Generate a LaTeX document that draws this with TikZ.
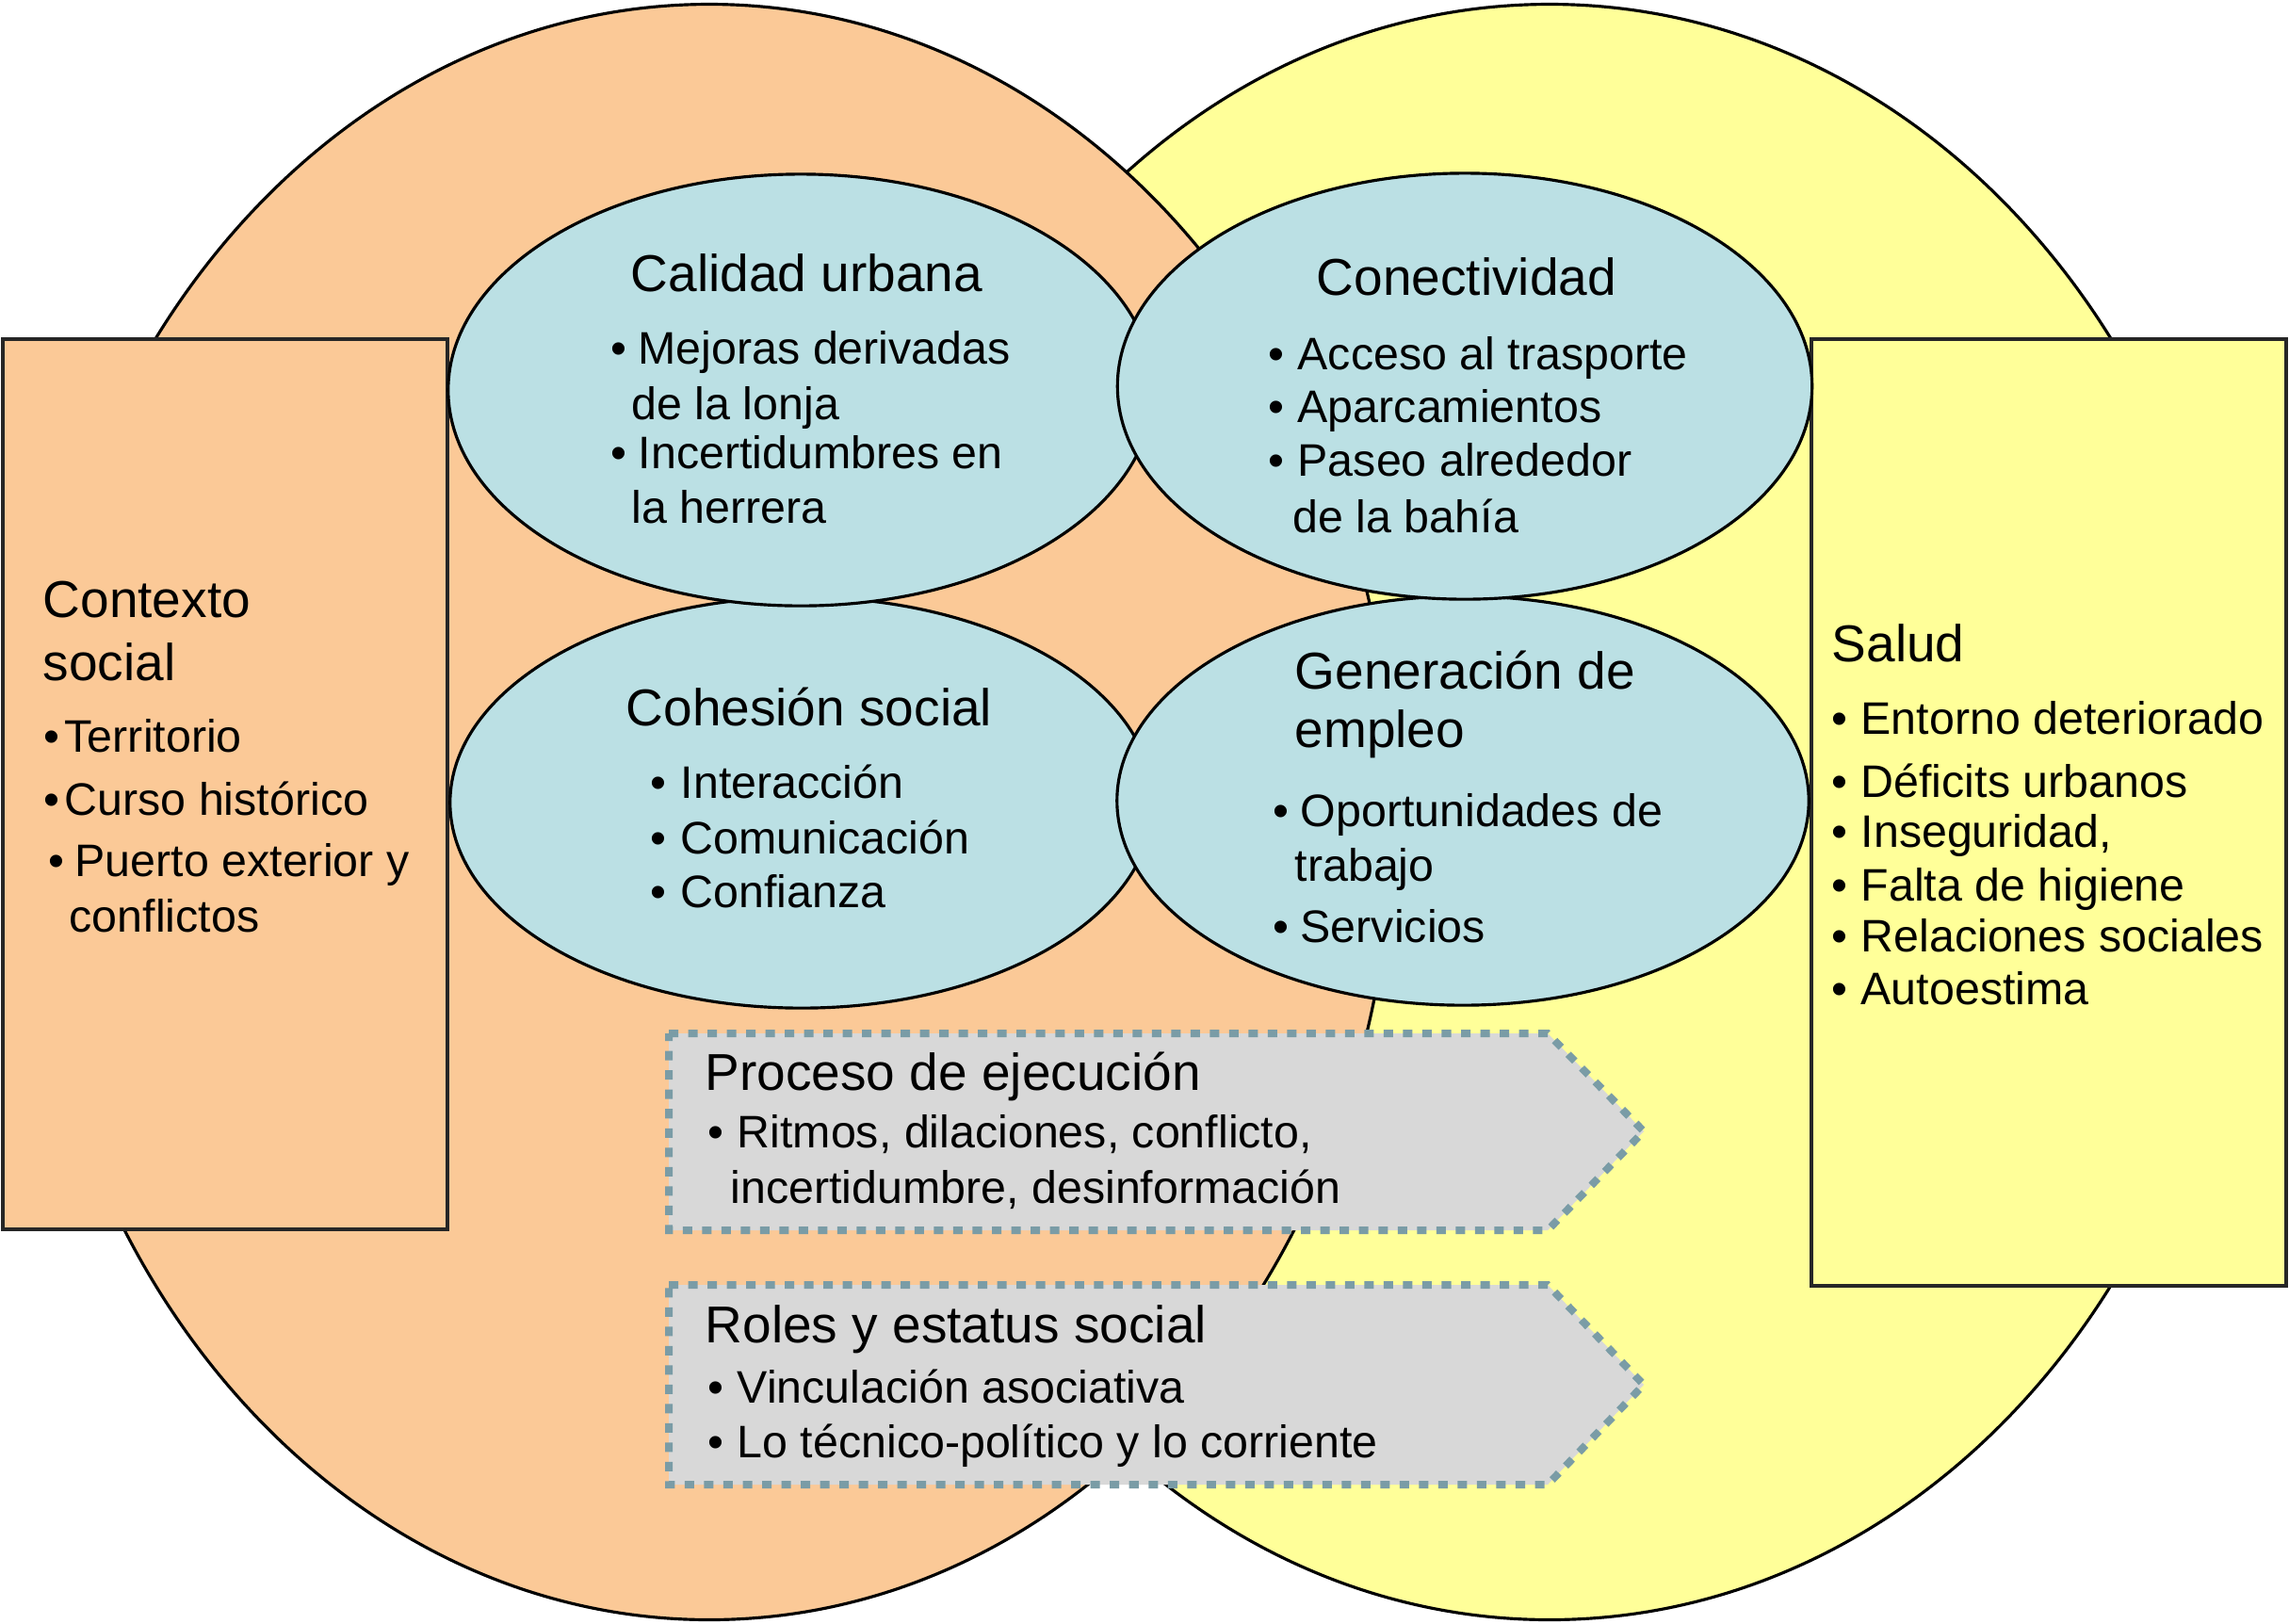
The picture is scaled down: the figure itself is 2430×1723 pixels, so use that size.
\documentclass[tikz,border=0pt]{standalone}
\usepackage{fontspec}
\setmainfont{Liberation Sans}
\usetikzlibrary{shapes.geometric}
\definecolor{peach}{RGB}{251,201,151}
\definecolor{lemon}{RGB}{255,255,153}
\definecolor{sky}{RGB}{187,224,228}
\definecolor{panel}{RGB}{216,216,216}
\definecolor{dotc}{RGB}{122,156,166}
\newcommand{\ttlfont}{\fontsize{15.65}{18}\selectfont}
\newcommand{\bodfont}{\fontsize{13.75}{16}\selectfont}
\newcommand{\bl}[1]{\makebox[#1][l]{•}}
\begin{document}
\begin{tikzpicture}[x=0.01cm,y=-0.01cm,
  bigell/.style={ellipse, draw=black, line width=0.9pt, inner sep=0},
  smallell/.style={ellipse, draw=black, line width=0.9pt, fill=sky, inner sep=0},
  sidebox/.style={rectangle, draw=black!85, line width=1.2pt, inner sep=0},
  arrowpanel/.style={fill=panel, draw=dotc, line width=0.08cm, dash pattern=on 0.1cm off 0.105cm},
  ttl/.style={anchor=base west, inner sep=0, font=\ttlfont},
  txt/.style={anchor=base west, inner sep=0, font=\bodfont}]
\fill[white] (0,0) rectangle (2430,1723);
\path[use as bounding box] (0,0) rectangle (2430,1723);

% big ellipses
\node[bigell, fill=lemon, minimum width=14.70cm, minimum height=17.14cm] (yel) at (1645,862) {};
\node[bigell, fill=peach, minimum width=14.50cm, minimum height=17.14cm] (ora) at (753,862) {};

% side boxes
\node[sidebox, fill=peach, minimum width=4.72cm, minimum height=9.45cm] (ctx) at (239,832.5) {};
\node[sidebox, fill=lemon, minimum width=5.04cm, minimum height=10.05cm] (sal) at (2175,862.5) {};

% small ellipses
\node[smallell, minimum width=7.46cm, minimum height=4.36cm] (coh) at (851,852) {};
\node[smallell, minimum width=7.34cm, minimum height=4.34cm] (gen) at (1553,850) {};
\node[smallell, minimum width=7.48cm, minimum height=4.58cm] (cal) at (850,414) {};
\node[smallell, minimum width=7.37cm, minimum height=4.52cm] (con) at (1555,410) {};

% arrow panels
\draw[arrowpanel] (710,1097) -- (1643,1097) -- (1745,1201) -- (1643,1306) -- (710,1306) -- cycle;
\draw[arrowpanel] (710,1364) -- (1643,1364) -- (1745,1470) -- (1643,1576) -- (710,1576) -- cycle;

% Calidad urbana
\node[ttl] (calT) at (669,309) {Calidad urbana};
\node[txt] (cal1) at (648,386) {\bl{0.29cm}Mejoras derivadas};
\node[txt] (cal2) at (670,445) {de la lonja};
\node[txt] (cal3) at (648,497) {\bl{0.29cm}Incertidumbres en};
\node[txt] (cal4) at (670,555) {la herrera};

% Conectividad
\node[ttl] (conT) at (1397,313) {Conectividad};
\node[txt] (con1) at (1346,392) {\bl{0.31cm}Acceso al trasporte};
\node[txt] (con2) at (1346,448) {\bl{0.31cm}Aparcamientos};
\node[txt] (con3) at (1346,505) {\bl{0.31cm}Paseo alrededor};
\node[txt] (con4) at (1372,565) {de la bahía};

% Cohesion social
\node[ttl] (cohT) at (664,770) {Cohesión social};
\node[txt] (coh1) at (690,847) {\bl{0.32cm}Interacción};
\node[txt] (coh2) at (690,906) {\bl{0.32cm}Comunicación};
\node[txt] (coh3) at (690,963) {\bl{0.32cm}Confianza};

% Generacion de empleo
\node[ttl] (genT1) at (1374,731) {Generación de};
\node[ttl] (genT2) at (1374,793) {empleo};
\node[txt] (gen1) at (1351,877) {\bl{0.29cm}Oportunidades de};
\node[txt] (gen2) at (1374,935) {trabajo};
\node[txt] (gen3) at (1351,1000) {\bl{0.29cm}Servicios};

% Contexto social
\node[ttl] (ctxT1) at (45,655) {Contexto};
\node[ttl] (ctxT2) at (45,722) {social};
\node[txt] (ctx1) at (46,798) {\bl{0.22cm}Territorio};
\node[txt] (ctx2) at (46,865) {\bl{0.22cm}Curso histórico};
\node[txt] (ctx3) at (51,930) {\bl{0.28cm}Puerto exterior y};
\node[txt] (ctx4) at (73,989) {conflictos};

% Salud
\node[ttl] (salT) at (1944,702) {Salud};
\node[txt] (sal1) at (1944,779) {\bl{0.31cm}Entorno deteriorado};
\node[txt] (sal2) at (1944,846) {\bl{0.31cm}Déficits urbanos};
\node[txt] (sal3) at (1944,899) {\bl{0.31cm}Inseguridad,};
\node[txt] (sal4) at (1944,956) {\bl{0.31cm}Falta de higiene};
\node[txt] (sal5) at (1944,1010) {\bl{0.31cm}Relaciones sociales};
\node[txt] (sal6) at (1944,1066) {\bl{0.31cm}Autoestima};

% Proceso de ejecucion
\node[ttl] (proT) at (748,1157) {Proceso de ejecución};
\node[txt] (pro1) at (751,1218) {\bl{0.31cm}Ritmos, dilaciones, conflicto,};
\node[txt] (pro2) at (775,1277) {incertidumbre, desinformación};

% Roles y estatus social
\node[ttl] (rolT) at (748,1425) {Roles y estatus social};
\node[txt] (rol1) at (751,1489) {\bl{0.31cm}Vinculación asociativa};
\node[txt] (rol2) at (751,1547) {\bl{0.31cm}Lo técnico-político y lo corriente};
\end{tikzpicture}
\end{document}
